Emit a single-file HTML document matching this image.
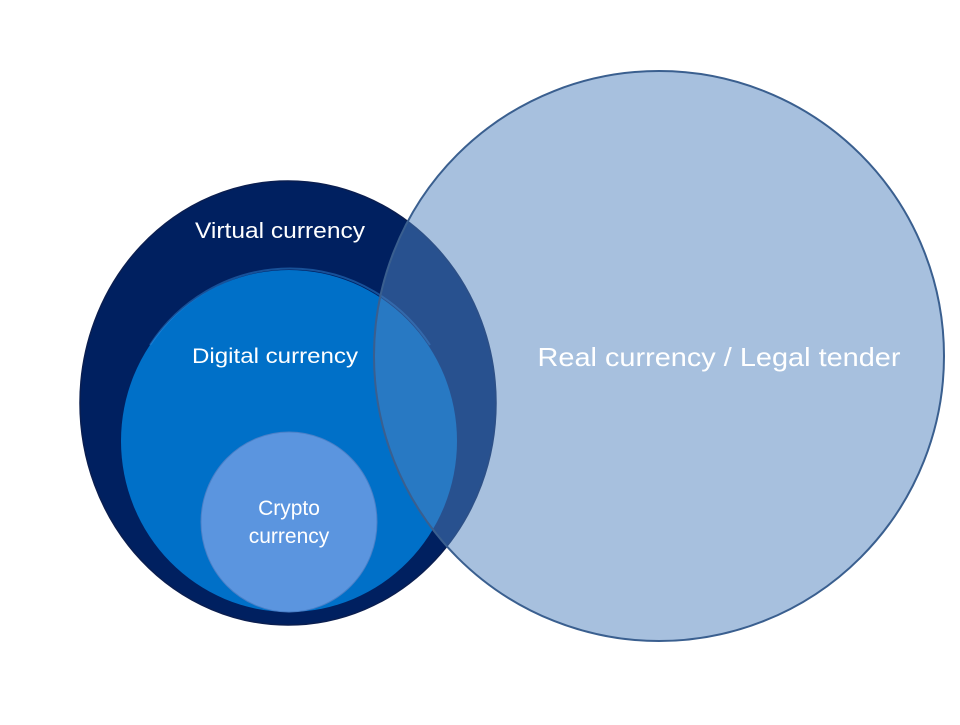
<!DOCTYPE html>
<html><head><meta charset="utf-8"><style>html,body{margin:0;padding:0;background:#fff}</style></head>
<body>
<svg width="960" height="720" viewBox="0 0 960 720" xmlns="http://www.w3.org/2000/svg" font-family="Liberation Sans, sans-serif">
<rect width="960" height="720" fill="#fff"/>
<ellipse cx="288" cy="403" rx="208" ry="222" fill="#002060" stroke="#0a1e50" stroke-width="1.5"/>
<ellipse cx="289" cy="441" rx="168" ry="171" fill="#0070c8"/>
<path d="M150,345 A168,171 0 0 1 430,345" fill="none" stroke="#3a9af0" stroke-width="2" opacity="0.4"/>
<ellipse cx="289" cy="522" rx="88" ry="90" fill="#5b95df" stroke="#4a80c8" stroke-width="1"/>
<ellipse cx="659" cy="356" rx="285" ry="285" fill="#4f81bd" fill-opacity="0.5" stroke="#3a5f8f" stroke-width="2"/>
<g fill="#fff" text-anchor="middle">
<text x="280" y="238" font-size="22" textLength="170" lengthAdjust="spacingAndGlyphs">Virtual currency</text>
<text x="275" y="363" font-size="21" textLength="166" lengthAdjust="spacingAndGlyphs">Digital currency</text>
<text x="289" y="515" font-size="21">Crypto</text>
<text x="289" y="543" font-size="21">currency</text>
<text x="719" y="366" font-size="26" textLength="363" lengthAdjust="spacingAndGlyphs">Real currency / Legal tender</text>
</g>
</svg>
</body></html>
